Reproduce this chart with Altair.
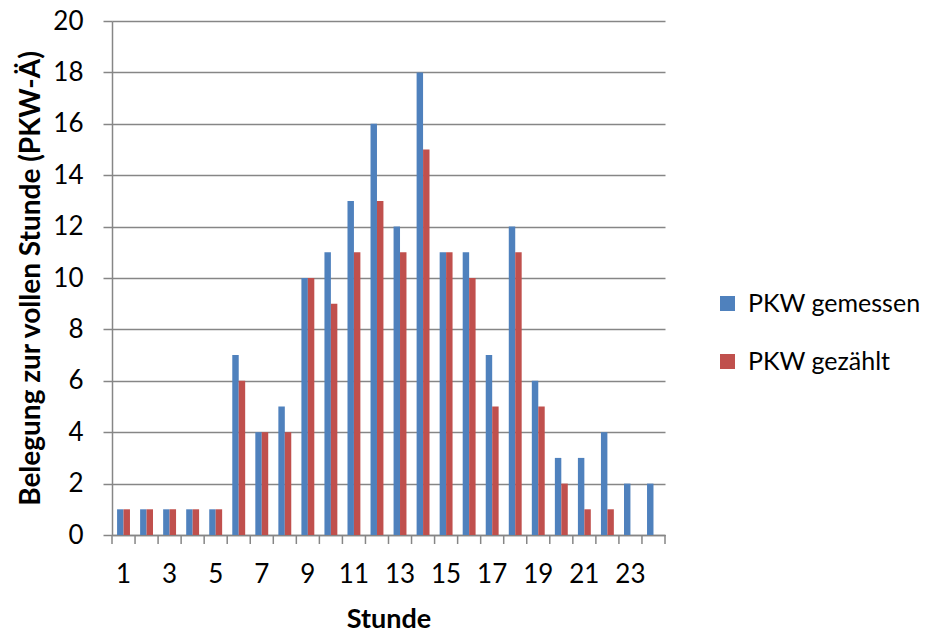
import altair as alt
import pandas as pd

# Stundenwerte (PKW-Äquivalente) je Stunde des Tages
stunden = list(range(1, 25))
pkw_gemessen = [1, 1, 1, 1, 1, 7, 4, 5, 10, 11, 13, 16, 12, 18, 11, 11, 7, 12, 6, 3, 3, 4, 2, 2]
pkw_gezaehlt = [1, 1, 1, 1, 1, 6, 4, 4, 10, 9, 11, 13, 11, 15, 11, 10, 5, 11, 5, 2, 1, 1, 0, 0]

serien = ["PKW gemessen", "PKW gezählt"]
farben = ["#4F81BD", "#C0504D"]

rows = []
for s, a, b in zip(stunden, pkw_gemessen, pkw_gezaehlt):
    rows.append({"Stunde": s, "Serie": serien[0], "Wert": a})
    rows.append({"Stunde": s, "Serie": serien[1], "Wert": b})
df = pd.DataFrame(rows)

# category boundaries for the tick marks below the x axis
grenzen = pd.DataFrame({"g": list(range(0, len(stunden) + 1))})

W, H = 553, 514
FONT = "Lato"
GRAU = "#868686"

bars = alt.Chart(df).mark_bar().encode(
    x=alt.X(
        "Stunde:O",
        scale=alt.Scale(paddingInner=0.44, paddingOuter=0.22),
        axis=alt.Axis(
            title="Stunde",
            labelAngle=0,
            ticks=False,
            labelExpr="datum.value % 2 == 1 ? datum.label : ''",
            labelFont=FONT,
            labelFontSize=26,
            labelColor="#000000",
            labelPadding=26,
            titleFont=FONT,
            titleFontSize=27,
            titleFontWeight="bold",
            titleColor="#000000",
            titlePadding=19,
            domainColor=GRAU,
            domainWidth=1.5,
            grid=False,
        ),
    ),
    xOffset=alt.XOffset("Serie:N", sort=serien),
    y=alt.Y(
        "Wert:Q",
        scale=alt.Scale(domain=[0, 20], nice=False),
        axis=alt.Axis(
            title="Belegung zur vollen Stunde (PKW-Ä)",
            values=list(range(0, 21, 2)),
            labelFont=FONT,
            labelFontSize=26,
            labelColor="#000000",
            labelPadding=20,
            tickSize=9,
            tickColor=GRAU,
            tickWidth=1.5,
            domainColor=GRAU,
            domainWidth=1.5,
            gridColor=GRAU,
            gridWidth=1.3,
            titleFont=FONT,
            titleFontSize=28,
            titleFontWeight="bold",
            titleColor="#000000",
            titlePadding=7,
        ),
    ),
    color=alt.Color(
        "Serie:N",
        sort=serien,
        scale=alt.Scale(domain=serien, range=farben),
        legend=alt.Legend(
            title=None,
            orient="none",
            legendX=603,
            legendY=270,
            symbolType="square",
            symbolSize=225,
            symbolStrokeWidth=0,
            labelFont=FONT,
            labelFontSize=25,
            labelLimit=400,
            labelColor="#000000",
            labelOffset=8,
            rowPadding=32,
        ),
    ),
)

ticks = alt.Chart(grenzen).mark_rule(color=GRAU, strokeWidth=1.5).encode(
    x=alt.X("g:Q", scale=alt.Scale(domain=[0, len(stunden)], nice=False, zero=False), axis=None),
    y=alt.value(H),
    y2=alt.value(H + 9),
)

chart = (
    alt.layer(bars, ticks)
    .resolve_scale(x="independent")
    .properties(
        width=W,
        height=H,
        autosize=alt.AutoSizeParams(type="none"),
        padding={"left": 112, "top": 21, "right": 267, "bottom": 102},
        background="#ffffff",
    )
    .configure_view(stroke=None)
)

chart.save("out.html", embed_options={"renderer": "svg", "actions": False})
